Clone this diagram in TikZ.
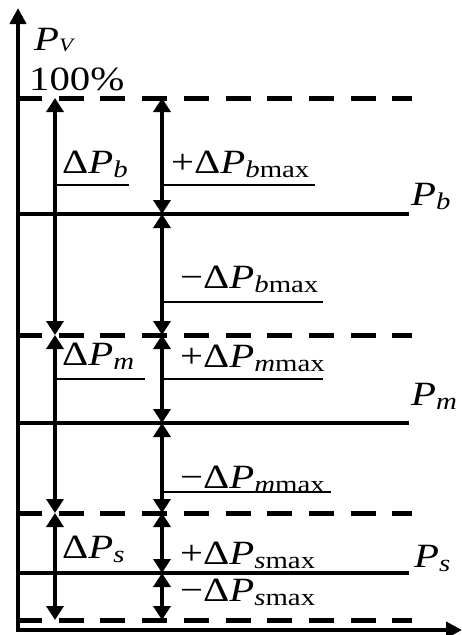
\documentclass[tikz,border=0pt]{standalone}
\usepackage{fontspec}
\setmainfont{Liberation Serif}
\usepackage{graphicx}
\usetikzlibrary{arrows.meta}
\newcommand{\Lab}[2]{\scalebox{1.2}[1]{#1Δ\textit{P}\raisebox{-0.12em}{\fontsize{24}{24}\selectfont\textit{#2}max}}}
\newcommand{\Lsm}[1]{\scalebox{1.2}[1]{Δ\textit{P}\raisebox{-0.12em}{\fontsize{24}{24}\selectfont\textit{#1}}}}
\newcommand{\Lp}[1]{\scalebox{1.2}[1]{\textit{P}\raisebox{-0.12em}{\fontsize{24}{24}\selectfont\textit{#1}}}}
\begin{document}
\begin{tikzpicture}[x=1pt,y=-1pt,
  lbl/.style={anchor=base west,inner sep=0pt,font=\fontsize{34}{34}\selectfont},
  axis/.style={line width=4pt,-{Triangle[length=16pt,width=16pt]}},
  dashline/.style={line width=5pt,dash pattern=on 25pt off 16.7pt},
  solidline/.style={line width=4pt},
  dbl/.style={line width=4pt,{Triangle[length=14pt,width=17pt]}-{Triangle[length=14pt,width=17pt]}},
  uline/.style={line width=1.5pt}]
\useasboundingbox (0,0) rectangle (462,635);
% axes
\coordinate (O) at (18,630);
\coordinate (Ytop) at (18,8);
\coordinate (Xend) at (462,630);
\draw[axis] ([yshift=-2pt]O) -- (Ytop);
\draw[axis] ([xshift=-2pt]O) -- (Xend);
% dashed levels
\foreach \n/\y in {d1/98,d2/335,d3/513,d4/620}{
  \coordinate (\n L) at (17,\y);
  \coordinate (\n R) at (412,\y);
  \draw[dashline] (\n L) -- (\n R);
}
% solid levels
\foreach \n/\y in {b/214,m/423,s/573}{
  \coordinate (\n L) at (18,\y);
  \coordinate (\n R) at (409,\y);
  \draw[solidline] (\n L) -- (\n R);
}
% left arrows
\coordinate (l1) at (55,98);
\coordinate (l2) at (55,335);
\coordinate (l3) at (55,513);
\coordinate (l4) at (55,620);
\draw[dbl] (l1) -- (l2);
\draw[dbl] (l2) -- (l3);
\draw[dbl] (l3) -- (l4);
% middle arrows
\coordinate (c1) at (162,98);
\coordinate (c2) at (162,214);
\coordinate (c3) at (162,335);
\coordinate (c4) at (162,423);
\coordinate (c5) at (162,513);
\coordinate (c6) at (162,573);
\coordinate (c7) at (162,620);
\draw[dbl] (c1) -- (c2);
\draw[dbl] (c2) -- (c3);
\draw[dbl] (c3) -- (c4);
\draw[dbl] (c4) -- (c5);
\draw[dbl] (c5) -- (c6);
\draw[dbl] (c6) -- (c7);
% underlines
\coordinate (u1a) at (55,185);  \coordinate (u1b) at (129,185);
\coordinate (u2a) at (162,185); \coordinate (u2b) at (315,185);
\coordinate (u3a) at (162,302); \coordinate (u3b) at (323,302);
\coordinate (u4a) at (55,379);  \coordinate (u4b) at (145,379);
\coordinate (u5a) at (162,379); \coordinate (u5b) at (323,379);
\coordinate (u6a) at (162,492); \coordinate (u6b) at (331,492);
\draw[uline] (u1a) -- (u1b);
\draw[uline] (u2a) -- (u2b);
\draw[uline] (u3a) -- (u3b);
\draw[uline] (u4a) -- (u4b);
\draw[uline] (u5a) -- (u5b);
\draw[uline] (u6a) -- (u6b);
% labels
\node[lbl] (pv) at (34,50) {\scalebox{1.2}[1]{\textit{P}\raisebox{-0.05em}{\fontsize{19}{19}\selectfont\textit{V}}}};
\node[lbl] (hund) at (29,90) {\scalebox{1.2}[1]{100\%}};
\node[lbl] (dpb) at (62,173) {\Lsm{b}};
\node[lbl] (pbmax) at (171,173) {\Lab{+}{b}};
\node[lbl] (pb) at (411,205) {\Lp{b}};
\node[lbl] (mbmax) at (180,288) {\Lab{−}{b}};
\node[lbl] (dpm) at (62,365) {\Lsm{m}};
\node[lbl] (pmmax) at (180,367) {\Lab{+}{m}};
\node[lbl] (pm) at (411,405) {\Lp{m}};
\node[lbl] (mmmax) at (180,488) {\Lab{−}{m}};
\node[lbl] (dps) at (62,558) {\Lsm{s}};
\node[lbl] (psmax) at (180,564) {\Lab{+}{s}};
\node[lbl] (ps) at (414,567) {\Lp{s}};
\node[lbl] (msmax) at (180,601) {\Lab{−}{s}};
\end{tikzpicture}
\end{document}
